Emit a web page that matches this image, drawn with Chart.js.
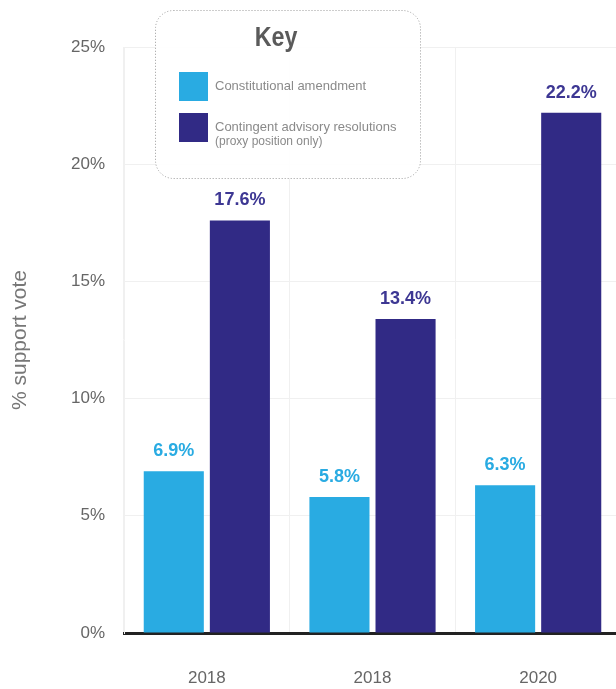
<!DOCTYPE html>
<html>
<head>
<meta charset="utf-8">
<script src="https://cdn.jsdelivr.net/npm/chart.js@4"></script>
<style>
  html, body { margin: 0; padding: 0; background: #fff; overflow: hidden; }
  #wrap { width: 621px; height: 689px; }
</style>
</head>
<body>
<div id="wrap"><canvas id="chart"></canvas></div>
<script>
const years = ["2018", "2018", "2020"];
const amendment = [6.9, 5.8, 6.3];
const advisory = [17.6, 13.4, 22.2];
const seriesNames = ["Constitutional amendment", "Contingent advisory resolutions|(proxy position only)"];

const BLUE = "#29abe2";
const PURPLE = "#312a85";
const FONT = "'Liberation Sans', Arial, sans-serif";

// value labels above each bar
const valueLabels = {
  id: "valueLabels",
  afterDatasetsDraw(chart) {
    const ctx = chart.ctx;
    ctx.save();
    ctx.font = "bold 18px " + FONT;
    ctx.textAlign = "center";
    ctx.textBaseline = "middle";
    chart.data.datasets.forEach((ds, i) => {
      const meta = chart.getDatasetMeta(i);
      ctx.fillStyle = i === 0 ? BLUE : "#3d3793";
      meta.data.forEach((bar, j) => {
        ctx.fillText(ds.data[j].toFixed(1) + "%", bar.x, bar.y - 20);
      });
    });
    ctx.restore();
  }
};

// the dotted "Key" box
const keyBox = {
  id: "keyBox",
  afterDraw(chart) {
    const ctx = chart.ctx;
    ctx.save();
    ctx.fillStyle = "rgba(255,255,255,0.9)";
    ctx.strokeStyle = "#9a9a9a";
    ctx.lineWidth = 1;
    ctx.setLineDash([1, 2]);
    ctx.beginPath();
    ctx.roundRect(155.5, 10.5, 265, 168, 18);
    ctx.fill();
    ctx.stroke();
    ctx.setLineDash([]);

    // condensed bold title
    ctx.save();
    ctx.fillStyle = "#5a5a5a";
    ctx.font = "bold 27px " + FONT;
    ctx.textAlign = "center";
    ctx.textBaseline = "middle";
    ctx.translate(276, 39);
    ctx.scale(0.86, 1);
    ctx.fillText("Key", 0, 0);
    ctx.restore();

    ctx.textAlign = "left";
    ctx.textBaseline = "middle";
    chart.data.datasets.forEach((ds, i) => {
      const y = 72 + i * 41;
      ctx.fillStyle = ds.backgroundColor;
      ctx.fillRect(179, y, 29, 29);
      ctx.fillStyle = "#8a8a8a";
      const lines = ds.label.split("|");
      ctx.font = "13px " + FONT;
      ctx.fillText(lines[0], 215, y + 14);
      if (lines.length > 1) {
        ctx.font = "12px " + FONT;
        ctx.fillText(lines[1], 215, y + 29);
      }
    });
    ctx.restore();
  }
};

new Chart(document.getElementById("chart"), {
  type: "bar",
  data: {
    labels: years,
    datasets: [
      { label: seriesNames[0], data: amendment, backgroundColor: BLUE },
      { label: seriesNames[1], data: advisory, backgroundColor: PURPLE }
    ]
  },
  options: {
    responsive: true,
    maintainAspectRatio: false,
    animation: false,
    categoryPercentage: 0.798,
    barPercentage: 0.909,
    layout: { padding: { top: 47, right: 0, bottom: 0, left: 0 } },
    plugins: {
      legend: { display: false },
      tooltip: { enabled: false }
    },
    scales: {
      x: {
        grid: { color: "#f0f0f0", drawTicks: false },
        border: { display: true, color: "#222", width: 3 },
        ticks: { color: "#666", font: { family: FONT, size: 17 }, padding: 35 },
        afterFit(scale) { scale.height = 56; }
      },
      y: {
        min: 0,
        max: 25,
        ticks: {
          stepSize: 5,
          color: "#666",
          padding: 19,
          font: { family: FONT, size: 17 },
          callback: (v) => v + "%"
        },
        grid: { color: "#f0f0f0", drawTicks: false },
        border: { display: true, color: "#f0f0f0" },
        title: {
          display: true,
          text: "% support vote",
          color: "#777",
          font: { family: FONT, size: 21 },
          padding: { top: 8, bottom: 0 }
        },
        afterFit(scale) { scale.width = 124; }
      }
    }
  },
  plugins: [valueLabels, keyBox]
});
</script>
</body>
</html>
